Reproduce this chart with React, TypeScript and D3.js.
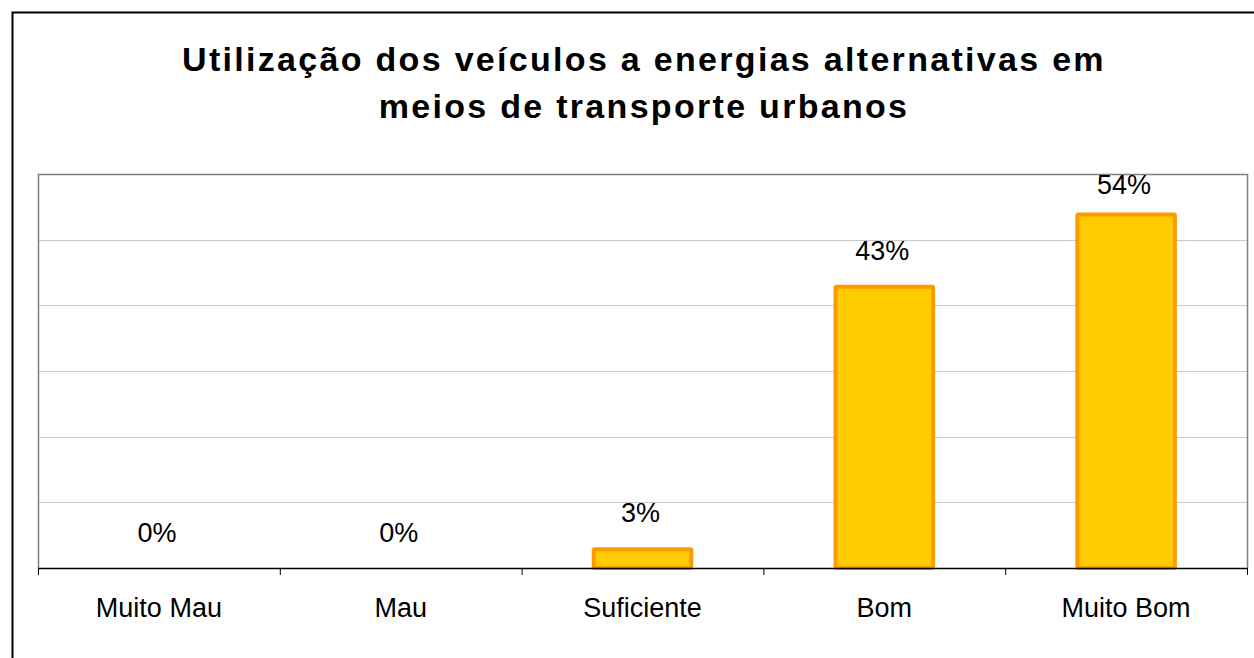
import React, { useEffect, useRef } from "react";
import * as d3 from "d3";

const categories = ["Muito Mau", "Mau", "Suficiente", "Bom", "Muito Bom"];
const values = [0, 0, 3, 43, 54];
const yTicks = [0, 10, 20, 30, 40, 50, 60];
const titleLines = [
  "Utilização dos veículos a energias alternativas em",
  "meios de transporte urbanos",
];

function App() {
  const ref = useRef<SVGSVGElement>(null);
  const width = 1254;
  const height = 658;
  const plot = { left: 38, top: 174, right: 1247, bottom: 568 };
  const font = "Arial, 'Liberation Sans', sans-serif";

  useEffect(() => {
    const svg = d3.select(ref.current);
    svg.selectAll("*").remove();

    // outer frame
    svg.append("rect")
      .attr("x", 12.5).attr("y", 12.5)
      .attr("width", width).attr("height", height)
      .attr("fill", "white").attr("stroke", "#000").attr("stroke-width", 2);

    svg.append("g").selectAll("text").data(titleLines).enter()
      .append("text")
      .attr("x", 644)
      .attr("y", (d, i) => 71 + i * 47)
      .attr("text-anchor", "middle")
      .attr("font-family", font)
      .attr("font-weight", "bold")
      .attr("font-size", 34)
      .attr("letter-spacing", 2.3)
      .attr("fill", "#000")
      .text(d => d);

    const x = d3.scaleBand()
      .domain(categories)
      .range([plot.left, plot.right])
      .paddingInner(0.58)
      .paddingOuter(0.29);
    const band = d3.scaleBand().domain(categories).range([plot.left, plot.right]);
    const y = d3.scaleLinear().domain([0, 60]).range([plot.bottom, plot.top]);

    // gridlines
    svg.append("g").selectAll("line").data(yTicks.slice(1, -1)).enter()
      .append("line")
      .attr("x1", plot.left).attr("x2", plot.right)
      .attr("y1", d => Math.round(y(d)) + 0.5).attr("y2", d => Math.round(y(d)) + 0.5)
      .attr("stroke", "#c8c8c8").attr("stroke-width", 1);

    // plot frame (top, right, left)
    svg.append("path")
      .attr("d", `M${plot.left + 0.5},${plot.bottom} V${plot.top + 0.5} H${plot.right + 0.5} V${plot.bottom}`)
      .attr("fill", "none").attr("stroke", "#808080").attr("stroke-width", 1.5);

    // bars
    svg.append("g").selectAll("rect").data(values).enter()
      .append("rect")
      .attr("x", (d, i) => x(categories[i])! + 2)
      .attr("y", d => y(d) + 1)
      .attr("width", x.bandwidth() - 4)
      .attr("height", d => Math.max(0, plot.bottom - y(d) - 1))
      .attr("fill", "#FFCC00")
      .attr("stroke", "#FF9900")
      .attr("stroke-width", 4)
      .attr("rx", 1)
      .attr("display", d => (d > 0 ? null : "none"));

    // value labels (kept inside the plot area)
    svg.append("g").selectAll("text").data(values).enter()
      .append("text")
      .attr("x", (d, i) => band(categories[i])! + band.bandwidth() / 2 - 2)
      .attr("y", d => Math.max(y(d) - 26, plot.top + 20))
      .attr("text-anchor", "middle")
      .attr("font-family", font)
      .attr("font-size", 27)
      .attr("fill", "#000")
      .text(d => d + "%");

    // x axis
    const xAxis = d3.axisBottom(band).tickSize(0).tickFormat(() => "");
    svg.append("g")
      .attr("transform", `translate(0,${plot.bottom})`)
      .call(xAxis)
      .call(g => g.select(".domain").attr("stroke", "#000").attr("stroke-width", 1.5));

    svg.append("g").selectAll("line")
      .data(d3.range(categories.length + 1))
      .enter().append("line")
      .attr("x1", i => plot.left + i * band.bandwidth() + 0.5)
      .attr("x2", i => plot.left + i * band.bandwidth() + 0.5)
      .attr("y1", plot.bottom).attr("y2", plot.bottom + 7)
      .attr("stroke", "#000").attr("stroke-width", 1);

    svg.append("g").selectAll("text").data(categories).enter()
      .append("text")
      .attr("x", d => band(d)! + band.bandwidth() / 2)
      .attr("y", 617)
      .attr("text-anchor", "middle")
      .attr("font-family", font)
      .attr("font-size", 27)
      .attr("fill", "#000")
      .text(d => d);
  }, []);

  return (
    <svg
      ref={ref}
      width={width}
      height={height}
      style={{ position: "fixed", left: 0, top: 0, background: "#fff" }}
    />
  );
}

export default App;
